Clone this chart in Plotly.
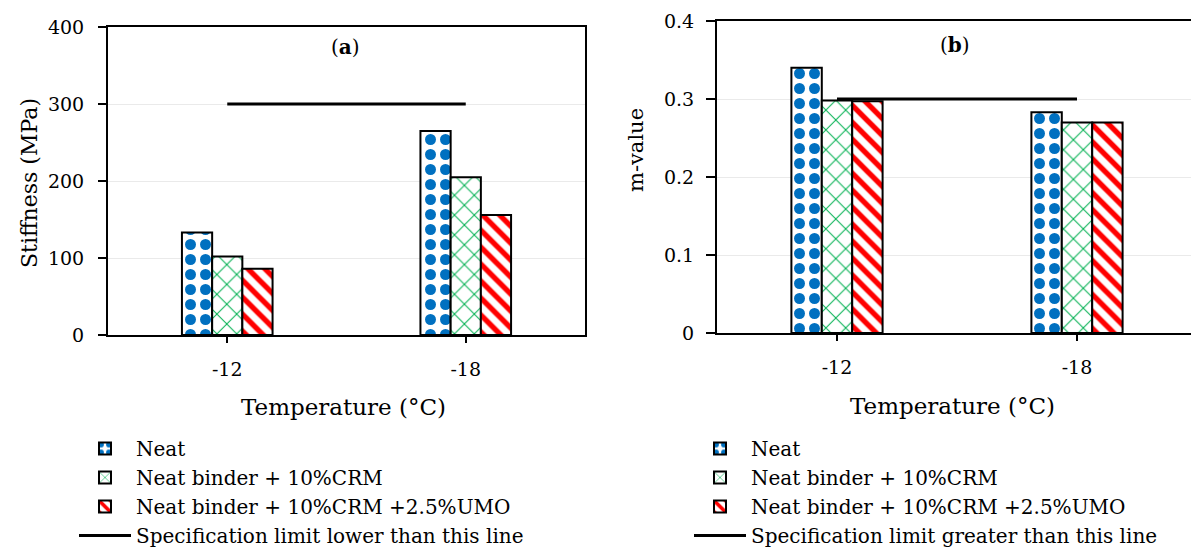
import plotly.graph_objects as go

W, H = 1191, 555

temperatures = ["-12", "-18"]
series_names = ["Neat", "Neat binder + 10%CRM", "Neat binder + 10%CRM +2.5%UMO"]

# Stiffness (MPa) per binder at each test temperature
stiffness_neat = [133, 265]
stiffness_crm = [102, 205]
stiffness_umo = [86, 156]
stiffness_limit = [300, 300]

# m-value per binder at each test temperature
m_neat = [0.340, 0.283]
m_crm = [0.298, 0.270]
m_umo = [0.297, 0.270]
m_limit = [0.3, 0.3]

FONT = "DejaVu Serif"

patterns = [
    dict(shape=".", fgcolor="#0070C0", bgcolor="white", fgopacity=1, size=15, solidity=0.42),
    dict(shape="x", fgcolor="#00B050", bgcolor="white", fgopacity=1, size=14, solidity=0.14),
    dict(shape="\\", fgcolor="#FF0000", bgcolor="white", fgopacity=1, size=12, solidity=0.45),
]


def px_x(p):
    return p / W


def px_y(p):
    return 1 - p / H


fig = go.Figure()

left_values = [stiffness_neat, stiffness_crm, stiffness_umo]
right_values = [m_neat, m_crm, m_umo]

for name, vals, pat in zip(series_names, left_values, patterns):
    fig.add_trace(go.Bar(
        x=temperatures, y=vals, name=name, xaxis="x", yaxis="y",
        marker=dict(color="white", pattern=pat, line=dict(color="black", width=2)),
        legend="legend",
    ))
fig.add_trace(go.Scatter(
    x=temperatures, y=stiffness_limit, mode="lines", xaxis="x", yaxis="y",
    name="Specification limit lower than this line",
    line=dict(color="black", width=3), legend="legend",
))

for name, vals, pat in zip(series_names, right_values, patterns):
    fig.add_trace(go.Bar(
        x=temperatures, y=vals, name=name, xaxis="x2", yaxis="y2",
        marker=dict(color="white", pattern=pat, line=dict(color="black", width=2)),
        legend="legend2",
    ))
fig.add_trace(go.Scatter(
    x=temperatures, y=m_limit, mode="lines", xaxis="x2", yaxis="y2",
    name="Specification limit greater than this line",
    line=dict(color="black", width=3), legend="legend2",
))

axis_common = dict(
    showline=True, linecolor="black", linewidth=2,
    ticks="outside", tickcolor="black", tickwidth=2,
    tickfont=dict(family=FONT, size=19, color="black"),
    zeroline=False, automargin=False,
)

# legends are anchored by their bottom edge so they never spill past the page
legend_common = dict(
    xanchor="left", yanchor="bottom",
    font=dict(family=FONT, size=20, color="black"),
    bgcolor="rgba(0,0,0,0)", tracegroupgap=0, traceorder="normal",
    itemwidth=52,
)

fig.update_layout(
    width=W, height=H,
    margin=dict(l=0, r=0, t=0, b=0),
    paper_bgcolor="white", plot_bgcolor="white",
    font=dict(family=FONT, color="black"),
    barmode="group", bargap=0.62, bargroupgap=0,
    xaxis=dict(
        **axis_common, domain=[px_x(108), px_x(585)], anchor="y",
        mirror=True, ticklen=6, showgrid=False, range=[-0.5, 1.5],
        type="category", ticklabelstandoff=10,
    ),
    yaxis=dict(
        **axis_common, domain=[px_y(335), px_y(27)], anchor="x",
        mirror=True, ticklen=8, range=[0, 400], dtick=100,
        showgrid=True, gridcolor="#EAEAEA", gridwidth=1, ticklabelstandoff=10,
    ),
    xaxis2=dict(
        **axis_common, domain=[px_x(717), 1.0], anchor="y2",
        mirror=True, ticklen=6, showgrid=False, range=[-0.5, 1.475],
        type="category", ticklabelstandoff=10,
    ),
    yaxis2=dict(
        **axis_common, domain=[px_y(333), px_y(21)], anchor="x2",
        mirror=False, ticklen=9, range=[0, 0.4], dtick=0.1,
        showgrid=True, gridcolor="#EAEAEA", gridwidth=1, ticklabelstandoff=8,
    ),
    legend=dict(**legend_common, x=px_x(74), y=0),
    legend2=dict(**legend_common, x=px_x(689), y=0),
)

annotations = [
    dict(text="(<b>a</b>)", x=px_x(345), y=px_y(47), font=dict(size=20)),
    dict(text="(<b>b</b>)", x=px_x(955), y=px_y(45), font=dict(size=20)),
    dict(text="Temperature (°C)", x=px_x(448), y=px_y(407), xanchor="right", font=dict(size=23)),
    dict(text="Temperature (°C)", x=px_x(1057), y=px_y(406), xanchor="right", font=dict(size=23)),
    dict(text="Stiffness (MPa)", x=px_x(30), y=px_y(183), textangle=-90, font=dict(size=22)),
    dict(text="m-value", x=px_x(636), y=px_y(150), textangle=-90, font=dict(size=21)),
]
for a in annotations:
    a.setdefault("xanchor", "center")
    a.update(xref="paper", yref="paper", showarrow=False, yanchor="middle")
    a["font"].update(family=FONT, color="black")
fig.update_layout(annotations=annotations)

fig.write_html("out.html")
